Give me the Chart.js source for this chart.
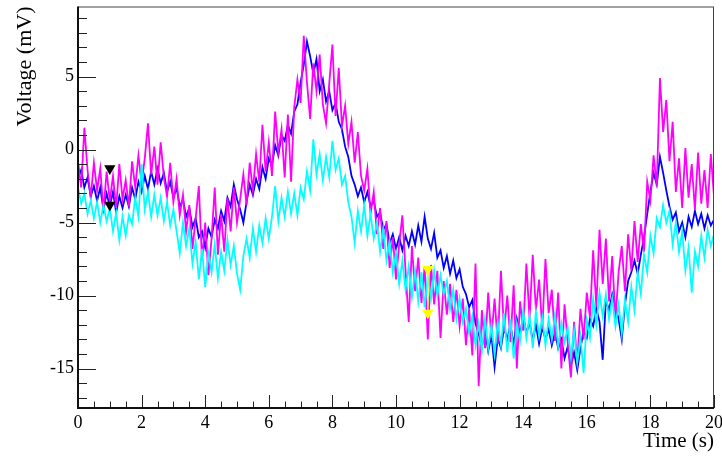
<!DOCTYPE html>
<html>
<head>
<meta charset="utf-8">
<title>Voltage vs time</title>
<script src="https://cdn.jsdelivr.net/npm/chart.js@4.4.1/dist/chart.umd.min.js"></script>
<style>
    html, body { margin: 0; padding: 0; background: #fff; }
    #wrap { width: 722px; height: 456px; }
</style>
</head>
<body>
<div id="wrap"><canvas id="voltChart" width="722" height="456"></canvas></div>
<script>
// Amostragem: um valor a cada 0.1 s, de 0 a 20 s
const tStart = 0;
const tEnd = 20;

// Canal azul (mV)
const blueValues = [
    -2.0, -1.4, -2.6, -1.9, -3.2, -2.5, -3.5, -2.6, -4.1, -3.0,
    -3.9, -2.9, -4.3, -3.2, -4.0, -3.1, -3.9, -2.6, -3.4, -2.2,
    -2.9, -1.8, -2.7, -1.5, -2.4, -1.3, -2.3, -1.6, -2.9, -2.2,
    -3.3, -2.6, -3.9, -3.4, -4.6, -4.0, -5.3, -4.7, -6.0, -5.6,
    -6.7, -5.4, -6.0, -4.8, -5.4, -4.2, -4.9, -3.3, -3.9, -2.4,
    -3.4, -4.1, -5.0, -3.6, -2.4, -3.1, -2.0, -2.7, -1.2, -2.0,
    -0.6, -1.1, 0.3, -0.4, 1.0, 0.6, 1.7, 1.1, 2.6, 3.1,
    4.6, 5.8, 7.4, 6.4, 5.2, 6.2, 4.0, 4.8, 3.3, 4.0,
    2.7, 3.2, 1.9, 1.4, 0.2, -0.5, -1.8, -2.4, -3.2, -2.6,
    -3.6, -2.9, -3.9, -3.5, -4.6, -4.3, -5.5, -5.1, -6.4, -5.8,
    -6.8, -6.0, -6.9, -5.9, -6.6, -5.6, -6.5, -5.2, -6.3, -4.6,
    -6.1, -6.8, -5.7, -7.4, -6.9, -8.1, -7.3, -8.5, -7.6, -8.8,
    -8.2, -9.4, -9.9, -10.8, -10.3, -11.9, -12.6, -13.5, -12.4, -13.8,
    -12.7, -14.9, -12.9, -13.6, -12.2, -13.0, -12.0, -13.4, -11.6, -12.7,
    -11.4, -12.6, -11.8, -13.1, -12.0, -13.3, -12.2, -13.0, -12.3, -13.4,
    -12.5, -13.6, -13.0, -14.3, -13.5, -14.8, -13.9, -15.1, -13.6, -12.4,
    -12.9, -11.6, -12.1, -10.9, -11.8, -14.4, -10.3, -11.0, -9.9, -10.8,
    -11.6, -13.0, -10.6, -9.0, -8.4, -7.6, -8.5, -7.2, -6.0, -4.4,
    -2.9, -1.6, -2.4, -0.5, -1.6, -2.8, -3.9, -4.8, -4.3, -5.6,
    -5.0, -6.0, -4.6, -5.3, -4.2, -5.1, -4.4, -5.4, -4.5, -5.2,
    -4.8
];

// Canal magenta (mV)
const magentaValues = [
    -0.8, -2.6, 1.5, -1.4, -3.3, -0.9, -2.8, -1.3, -4.2, -1.5,
    -3.5, -1.8, -4.0, -1.0, -3.4, -2.1, -3.9, -0.8, -2.6, -0.4,
    -2.3, -0.6, 1.8, -1.7, 0.2, -2.4, 0.5, -1.9, -3.2, -0.9,
    -3.6, -2.0, -4.5, -3.1, -5.6, -3.8, -6.8, -4.7, -2.5, -7.6,
    -5.0, -8.6, -6.1, -2.6, -7.2, -4.4, -7.0, -3.3, -5.6, -2.6,
    -5.0, -3.4, -1.7, -3.8, -0.9, -2.8, -0.3, -2.2, 1.7, -1.5,
    0.5, -1.8, 2.6, -0.2, 1.4, -1.9, 2.4, -2.2, 2.9, 4.8,
    3.2, 7.8, 4.6, 2.1, 5.9, 4.0, 6.5, 3.1, 1.8, 4.5,
    7.2, 2.3, 5.6, 1.6, 3.0, 0.4, 1.9, -0.9, 1.2, -1.8,
    -2.8, -1.3, -4.4, -2.9, -5.8, -4.0, -6.8, -4.9, -8.1, -6.0,
    -8.9, -6.5, -4.5, -8.3, -11.8, -6.6, -9.7, -7.4, -10.5, -8.0,
    -13.0, -7.9, -10.6, -8.3, -12.9, -9.0, -11.3, -9.2, -11.8, -9.6,
    -12.1, -10.2, -13.4, -10.9, -14.1, -7.8, -16.2, -11.0, -13.6, -9.8,
    -12.9, -10.2, -13.3, -8.3, -12.5, -10.0, -13.2, -9.3, -15.0, -10.4,
    -12.4, -7.8, -11.6, -7.2, -11.0, -8.9, -12.3, -7.5, -11.2, -9.6,
    -13.1, -9.8, -15.0, -10.6, -13.2, -15.6, -11.8, -14.6, -10.9, -13.0,
    -9.8, -11.5, -6.9, -10.8, -5.5, -9.2, -6.1, -10.4, -7.3, -11.7,
    -8.4, -6.6, -9.7, -5.8, -8.3, -4.9, -7.7, -5.1, -7.0, -2.2,
    -3.5, -0.4, -2.5, 4.9, 1.2, 3.4, -0.8, 1.9, -2.9, -0.6,
    -4.0, 0.1, -3.3, -1.0, -4.1, -0.2, -3.7, -1.4, -4.0, -0.3,
    -3.2
];

// Canal ciano (mV)
const cyanValues = [
    -2.6, -3.7, -3.0, -4.4, -3.5, -4.7, -3.6, -5.0, -3.8, -4.9,
    -4.0, -5.6, -4.3, -6.2, -4.6, -5.9, -4.5, -5.1, -3.3, -4.6,
    -1.0, -4.1, -2.9, -4.6, -3.1, -4.5, -3.3, -4.9, -3.6, -5.2,
    -4.1, -5.6, -7.1, -5.0, -6.6, -5.4, -7.8, -6.3, -8.9, -6.8,
    -9.4, -7.1, -8.4, -6.5, -8.8, -7.0, -8.3, -6.2, -7.9, -6.6,
    -8.5, -9.6, -7.3, -6.1, -7.4, -5.4, -7.0, -5.2, -6.4, -4.7,
    -6.1, -4.6, -2.5, -4.9, -3.3, -4.6, -2.9, -4.4, -3.0, -4.5,
    -2.6, -3.4, -1.5, -2.8, 0.7, -1.7, -0.3, -2.1, -0.5, -1.9,
    0.6, -1.4, -0.6, -2.4, -1.8, -3.6, -4.6, -6.4, -4.2, -5.6,
    -3.8, -5.9, -4.4, -6.1, -5.0, -7.0, -5.4, -7.6, -6.3, -8.4,
    -7.1, -9.2, -7.6, -9.6, -8.0, -10.1, -8.3, -10.4, -8.4, -10.8,
    -8.6, -10.2, -8.3, -10.0, -8.6, -9.9, -9.0, -10.9, -9.6, -11.6,
    -10.2, -11.8, -10.9, -12.6, -11.4, -13.4, -11.9, -13.8, -11.6, -13.6,
    -12.0, -14.0, -11.8, -13.4, -11.2, -13.9, -11.6, -14.3, -11.9, -13.1,
    -11.0, -12.9, -11.4, -13.6, -11.1, -12.8, -11.5, -13.4, -11.6, -13.0,
    -11.3, -13.5, -11.9, -13.2, -12.2, -14.2, -12.4, -14.6, -12.8, -15.3,
    -11.7, -12.9, -10.2, -12.0, -9.8, -11.4, -9.9, -11.6, -10.2, -12.1,
    -10.6, -12.6, -10.3, -11.8, -9.4, -11.0, -8.4, -9.9, -7.2, -8.4,
    -5.9, -7.1, -4.7, -5.3, -3.8, -5.0, -4.2, -6.5, -5.0, -7.0,
    -5.6, -8.3, -6.7, -9.8, -7.0, -8.0, -5.9, -7.4, -5.5, -6.6,
    -5.8
];

// Marcadores
const blackMarkerT = [1, 1];
const blackMarkerV = [-1.3, -3.8];
const yellowMarkerT = [11, 11];
const yellowMarkerV = [-8.2, -11.2];

// Eixos
const xTicks = [0, 2, 4, 6, 8, 10, 12, 14, 16, 18, 20];
const yTicks = [-15, -10, -5, 0, 5];
const xRange = [0, 20];
const yRange = [-17.7, 9.8];

function toPoints(values) {
    const step = (tEnd - tStart) / (values.length - 1);
    return values.map((v, i) => ({ x: tStart + i * step, y: v }));
}

function pairPoints(ts, vs) {
    return ts.map((t, i) => ({ x: t, y: vs[i] }));
}

// Moldura e marcas de escala no estilo ROOT (para dentro)
const rootFrame = {
    id: 'rootFrame',
    afterDatasetsDraw(chart) {
        const { ctx, chartArea: a, scales: { x, y } } = chart;
        ctx.save();
        ctx.strokeStyle = '#222';
        ctx.lineWidth = 1;
        ctx.beginPath();
        for (let i = 0; i <= 40; i++) {
            const v = i * 0.5;
            const px = Math.round(x.getPixelForValue(v)) + 0.5;
            const len = (i % 4 === 0) ? 13 : 6.5;
            ctx.moveTo(px, a.bottom);
            ctx.lineTo(px, a.bottom - len);
        }
        for (let v = -17; v <= 9; v++) {
            const py = Math.round(y.getPixelForValue(v)) + 0.5;
            const len = (v % 5 === 0) ? 18 : 9;
            ctx.moveTo(a.left, py);
            ctx.lineTo(a.left + len, py);
        }
        ctx.stroke();
        // moldura
        ctx.strokeStyle = '#444';
        ctx.lineWidth = 1;
        ctx.strokeRect(a.left + 0.5, a.top + 0.5, a.right - a.left - 1, a.bottom - a.top - 1);
        ctx.strokeStyle = '#111';
        ctx.lineWidth = 2;
        ctx.beginPath();
        ctx.moveTo(a.left, a.top);
        ctx.lineTo(a.left, a.bottom);
        ctx.lineTo(a.right, a.bottom);
        ctx.stroke();
        ctx.restore();
    }
};

const serif = "'Liberation Serif', 'DejaVu Serif', serif";

document.addEventListener('DOMContentLoaded', function() {
    const canvas = document.getElementById('voltChart');
    new Chart(canvas, {
        type: 'line',
        data: {
            datasets: [
                {
                    label: 'Amarelo',
                    data: pairPoints(yellowMarkerT, yellowMarkerV),
                    borderColor: '#ffff00',
                    backgroundColor: '#ffff00',
                    borderWidth: 1.5,
                    pointStyle: 'triangle',
                    rotation: 180,
                    pointRadius: 6.5,
                    pointBorderWidth: 0,
                    order: 0
                },
                {
                    label: 'Preto',
                    data: pairPoints(blackMarkerT, blackMarkerV),
                    showLine: false,
                    borderColor: '#000',
                    backgroundColor: '#000',
                    pointStyle: 'triangle',
                    rotation: 180,
                    pointRadius: 6.5,
                    pointBorderWidth: 0,
                    order: 0
                },
                {
                    label: 'Ciano',
                    data: toPoints(cyanValues),
                    borderColor: '#00ffff',
                    borderWidth: 1.8,
                    pointRadius: 0,
                    order: 1
                },
                {
                    label: 'Magenta',
                    data: toPoints(magentaValues),
                    borderColor: '#ff00ff',
                    borderWidth: 1.8,
                    pointRadius: 0,
                    order: 2
                },
                {
                    label: 'Azul',
                    data: toPoints(blueValues),
                    borderColor: '#0000ff',
                    borderWidth: 1.8,
                    pointRadius: 0,
                    order: 3
                }
            ]
        },
        options: {
            responsive: false,
            animation: false,
            devicePixelRatio: 1,
            layout: { padding: { top: 5, right: 8, left: 0, bottom: 0 } },
            elements: { line: { tension: 0 } },
            plugins: {
                legend: { display: false },
                tooltip: { enabled: false }
            },
            scales: {
                x: {
                    type: 'linear',
                    min: xRange[0],
                    max: xRange[1],
                    grid: { display: false, drawTicks: false, tickLength: 0 },
                    border: { display: false },
                    afterBuildTicks: s => { s.ticks = xTicks.map(v => ({ value: v })); },
                    afterFit: s => { s.height = 48; s.paddingLeft = 0; s.paddingRight = 0; },
                    ticks: {
                        color: '#000',
                        padding: 4,
                        maxRotation: 0,
                        autoSkip: false,
                        font: { family: serif, size: 18 }
                    },
                    title: {
                        display: true,
                        text: 'Time (s)',
                        align: 'end',
                        color: '#000',
                        padding: { top: 0, bottom: 2 },
                        font: { family: serif, size: 21 }
                    }
                },
                y: {
                    min: yRange[0],
                    max: yRange[1],
                    grid: { display: false, drawTicks: false, tickLength: 0 },
                    border: { display: false },
                    afterBuildTicks: s => { s.ticks = yTicks.map(v => ({ value: v })); },
                    afterFit: s => { s.width = 78; s.paddingTop = 0; s.paddingBottom = 0; },
                    ticks: {
                        color: '#000',
                        padding: 4,
                        autoSkip: false,
                        font: { family: serif, size: 18 }
                    },
                    title: {
                        display: true,
                        text: 'Voltage (mV)',
                        align: 'end',
                        color: '#000',
                        padding: { top: 12, bottom: 0 },
                        font: { family: serif, size: 22 }
                    }
                }
            }
        },
        plugins: [rootFrame]
    });
});
</script>
</body>
</html>
